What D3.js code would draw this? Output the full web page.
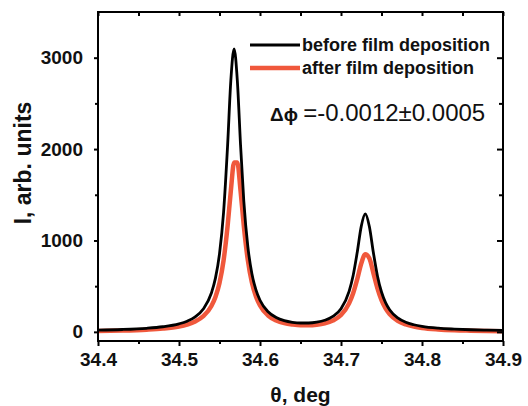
<!DOCTYPE html>
<html>
<head>
<meta charset="utf-8">
<script src="https://cdn.jsdelivr.net/npm/d3@7"></script>
<style>
  body { margin: 0; background: #fff; }
  svg { font-family: "Liberation Sans", Arial, sans-serif; }
</style>
</head>
<body>
<svg id="chart" width="528" height="406"></svg>
<script>
// theta grid (deg)
const theta = [34.40, 34.43, 34.46, 34.48, 34.50, 34.51, 34.52, 34.53, 34.54, 34.545,
  34.55, 34.555, 34.56, 34.564, 34.568, 34.572, 34.576, 34.58, 34.585, 34.59,
  34.595, 34.60, 34.61, 34.62, 34.63, 34.64, 34.65, 34.66, 34.67, 34.68,
  34.69, 34.70, 34.71, 34.715, 34.72, 34.725, 34.73, 34.735, 34.74, 34.745,
  34.75, 34.755, 34.76, 34.77, 34.78, 34.79, 34.80, 34.82, 34.84, 34.86,
  34.88, 34.90];

// intensity before film deposition
const before = [20, 26, 39, 56, 88, 117, 164, 250, 425, 588,
  854, 1305, 2040, 2751, 3095, 2752, 2042, 1431, 931, 637,
  459, 346, 220, 157, 123, 105, 97, 97, 106, 127,
  169, 254, 444, 617, 868, 1154, 1290, 1152, 865, 612,
  436, 320, 243, 153, 105, 78, 60, 40, 30, 23,
  19, 16];

// intensity after film deposition
const after = [9, 14, 24, 36, 59, 80, 113, 171, 283, 382,
  535, 780, 1159, 1544, 1853, 1853, 1545, 1161, 783, 539,
  387, 289, 179, 125, 95, 80, 72, 72, 78, 93,
  124, 184, 312, 422, 575, 748, 848, 805, 643, 475,
  346, 256, 194, 120, 81, 58, 43, 27, 18, 13,
  9, 7];

const xMajor = [34.4, 34.5, 34.6, 34.7, 34.8, 34.9];
const xMinor = [34.45, 34.55, 34.65, 34.75, 34.85];
const yMajor = [0, 1000, 2000, 3000];
const yMinor = [500, 1500, 2500];

const seriesNames = ["before film deposition", "after film deposition"];
const seriesColors = ["#000000", "#f0583c"];

const svg = d3.select("#chart");
const plotLeft = 98, plotRight = 503, plotTop = 12, plotBottom = 341;

const x = d3.scaleLinear().domain([34.4, 34.9]).range([plotLeft, plotRight]);
const y = d3.scaleLinear().domain([-100, 3500]).range([plotBottom, plotTop]);

const afterData = theta.map((t, i) => ({ t, v: after[i] }));
const beforeData = theta.map((t, i) => ({ t, v: before[i] }));

const line = d3.line()
  .x(d => x(d.t))
  .y(d => y(d.v))
  .curve(d3.curveMonotoneX);

// red first, black on top
svg.append("path")
  .datum(afterData)
  .attr("d", line)
  .attr("fill", "none")
  .attr("stroke", seriesColors[1])
  .attr("stroke-width", 4.5)
  .attr("stroke-linejoin", "round");

svg.append("path")
  .datum(beforeData)
  .attr("d", line)
  .attr("fill", "none")
  .attr("stroke", seriesColors[0])
  .attr("stroke-width", 2.8)
  .attr("stroke-linejoin", "round");

// axes
function styleAxis(g) {
  g.select(".domain").remove();
  g.selectAll("line").attr("stroke", "#000").attr("stroke-width", 2);
  g.selectAll("text")
    .attr("fill", "#111")
    .style("font-size", "19px")
    .style("font-weight", "bold");
}

svg.append("g")
  .attr("transform", `translate(0,${plotBottom})`)
  .call(d3.axisBottom(x).tickValues(xMajor).tickFormat(d3.format(".1f")).tickSize(5).tickPadding(7))
  .call(styleAxis);

svg.append("g")
  .attr("transform", `translate(0,${plotBottom})`)
  .call(d3.axisBottom(x).tickValues(xMinor).tickFormat("").tickSize(3))
  .call(styleAxis);

svg.append("g")
  .attr("transform", `translate(0,${plotTop})`)
  .call(d3.axisTop(x).tickValues(xMajor.concat(xMinor)).tickFormat("").tickSize(-4))
  .call(styleAxis);

svg.append("g")
  .attr("transform", `translate(${plotLeft},0)`)
  .call(d3.axisLeft(y).tickValues(yMajor).tickFormat(d3.format("d")).tickSize(4).tickPadding(11))
  .call(styleAxis);

svg.append("g")
  .attr("transform", `translate(${plotLeft},0)`)
  .call(d3.axisLeft(y).tickValues(yMinor).tickFormat("").tickSize(3))
  .call(styleAxis);

svg.append("g")
  .attr("transform", `translate(${plotRight},0)`)
  .call(d3.axisRight(y).tickValues(yMajor).tickFormat("").tickSize(-6))
  .call(styleAxis);

svg.append("g")
  .attr("transform", `translate(${plotRight},0)`)
  .call(d3.axisRight(y).tickValues(yMinor).tickFormat("").tickSize(-4))
  .call(styleAxis);

// frame
svg.append("rect")
  .attr("x", plotLeft)
  .attr("y", plotTop)
  .attr("width", plotRight - plotLeft)
  .attr("height", plotBottom - plotTop)
  .attr("fill", "none")
  .attr("stroke", "#000")
  .attr("stroke-width", 2);

// axis titles
svg.append("text")
  .attr("x", (plotLeft + plotRight) / 2)
  .attr("y", 402)
  .attr("text-anchor", "middle")
  .style("font-size", "21px")
  .style("font-weight", "bold")
  .attr("fill", "#111")
  .text("θ, deg");

svg.append("text")
  .attr("transform", "translate(31,163) rotate(-90)")
  .attr("text-anchor", "middle")
  .style("font-size", "23px")
  .style("font-weight", "bold")
  .attr("fill", "#111")
  .text("I, arb. units");

// legend
const legendY = [45, 68];
seriesNames.forEach((name, i) => {
  svg.append("line")
    .attr("x1", 250).attr("x2", 300)
    .attr("y1", legendY[i]).attr("y2", legendY[i])
    .attr("stroke", seriesColors[i])
    .attr("stroke-width", i === 0 ? 2.8 : 4.5);
  svg.append("text")
    .attr("x", 302)
    .attr("y", legendY[i])
    .attr("dy", "0.35em")
    .style("font-size", "18px")
    .style("font-weight", "bold")
    .attr("fill", "#111")
    .text(name);
});

// annotation
const note = svg.append("text")
  .attr("x", 270)
  .attr("y", 121)
  .attr("fill", "#111");
note.append("tspan")
  .style("font-size", "19px")
  .style("font-weight", "bold")
  .text("Δϕ ");
note.append("tspan")
  .style("font-size", "24px")
  .text("=-0.0012±0.0005");
</script>
</body>
</html>
